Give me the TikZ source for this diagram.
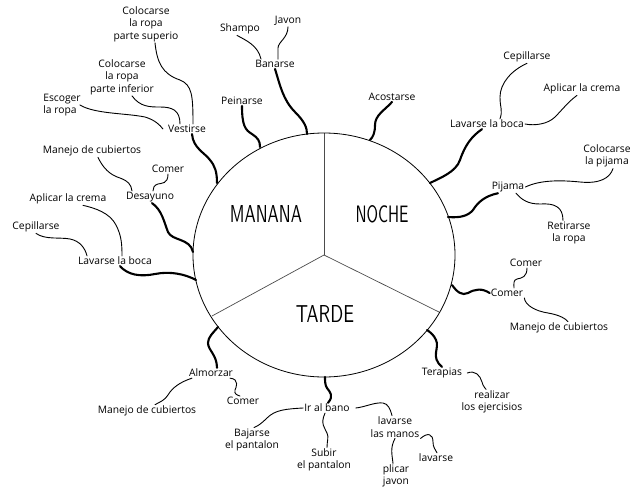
\documentclass[tikz,border=0pt]{standalone}
\usepackage{fontspec}
\setmainfont{Open Sans}
\usepackage{graphicx}
\begin{document}
\begin{tikzpicture}[x=1pt,y=-1pt,
  lbl/.style={font=\fontsize{10.3}{12.5}\selectfont, inner sep=1pt, align=center},
  big/.style={inner sep=0pt, font=\sffamily},
  thk/.style={line width=2.1pt, line cap=round},
  thn/.style={line width=0.9pt, line cap=round},
  divider/.style={line width=0.7pt, draw=black!70}]
\useasboundingbox[fill=white] (0,0) rectangle (633,491);

% circle and dividers
\coordinate (ctr) at (324,255);
\coordinate (dtop) at (324,133);
\coordinate (dleft) at (212,316);
\coordinate (dright) at (439,312);
\draw[divider] (ctr) -- (dtop);
\draw[divider] (ctr) -- (dleft);
\draw[divider] (ctr) -- (dright);
\draw[line width=0.8pt] (ctr) ellipse [x radius=131, y radius=122];

\node[big] (manana) at (266,214) {\resizebox{72pt}{17pt}{MANANA}};
\node[big] (noche) at (382,214) {\resizebox{53pt}{17pt}{NOCHE}};
\node[big] (tarde) at (325,314) {\resizebox{58pt}{17pt}{TARDE}};

% end points on the circle
\coordinate (cVest) at (217,183);
\coordinate (cBan) at (307,134);
\coordinate (cPei) at (260,147);
\coordinate (cAco) at (370,140);
\coordinate (cLavB) at (430,183);
\coordinate (cPij) at (448,217);
\coordinate (cComB) at (452,285);
\coordinate (cTer) at (427,330);
\coordinate (cIr) at (325,377);
\coordinate (cAlm) at (218,327);
\coordinate (cLavA) at (196,280);
\coordinate (cDes) at (193,252);

% MANANA labels
\node[lbl] (csup) at (146,24) {Colocarse\\la ropa\\parte superio};
\node[lbl] (sham) at (240,29) {Shampo};
\node[lbl] (javA) at (288,21) {Javon};
\node[lbl] (ban) at (275,64) {Banarse};
\node[lbl] (cinf) at (122,77) {Colocarse\\la ropa\\parte inferior};
\node[lbl, align=left] (esc) at (62,105) {Escoger\\la ropa};
\node[lbl] (pei) at (242,101) {Peinarse};
\node[lbl] (vest) at (187,129) {Vestirse};
\node[lbl] (manA) at (92,151) {Manejo de cubiertos};
\node[lbl] (comA) at (168,169) {Comer};
\node[lbl] (des) at (150,197) {Desayuno};
\node[lbl] (aplA) at (68,199) {Aplicar la crema};
\node[lbl] (cepA) at (36,227) {Cepillarse};
\node[lbl] (lavA) at (115,261) {Lavarse la boca};

% NOCHE labels
\node[lbl] (aco) at (392,97) {Acostarse};
\node[lbl] (cepB) at (527,57) {Cepillarse};
\node[lbl] (aplB) at (582,89) {Aplicar la crema};
\node[lbl] (lavB) at (487,124) {Lavarse la boca};
\node[lbl] (cpij) at (607,156) {Colocarse\\la pijama};
\node[lbl] (pij) at (508,187) {Pijama};
\node[lbl] (ret) at (569,233) {Retirarse\\la ropa};
\node[lbl] (comB1) at (526,263) {Comer};
\node[lbl] (comB) at (507,293) {Comer};
\node[lbl] (manB) at (559,328) {Manejo de cubiertos};

% TARDE labels
\node[lbl] (alm) at (211,373) {Almorzar};
\node[lbl] (comC) at (243,401) {Comer};
\node[lbl] (manC) at (147,411) {Manejo de cubiertos};
\node[lbl] (ter) at (442,373) {Terapias};
\node[lbl] (rea) at (492,402) {realizar\\los ejercisios};
\node[lbl] (ir) at (327,408) {Ir al bano};
\node[lbl] (baj) at (252,440) {Bajarse\\el pantalon};
\node[lbl] (sub) at (324,460) {Subir\\el pantalon};
\node[lbl] (lman) at (395,427) {lavarse\\las manos};
\node[lbl] (lav2) at (436,458) {lavarse};
\node[lbl] (pli) at (396,476) {plicar\\javon};

% ---- MANANA connectors
\draw[thn] ([xshift=9pt]csup.south) .. controls (157,62) and (162,74) .. (180,80) .. controls (192,85) and (193,95) .. ([xshift=6pt]vest.north);
\draw[thn] ([xshift=10pt]cinf.south) .. controls (140,107) and (150,107) .. (160,107) .. controls (172,107) and (180,110) .. ([xshift=-7pt]vest.north);
\draw[thn] ([xshift=-2pt]esc.east) .. controls (95,114) and (125,113) .. (145,117) .. controls (155,120) and (160,125) .. ([xshift=-4pt]vest.west);
\draw[thk] ([xshift=5pt]vest.south) .. controls (193,148) and (205,153) .. (210,160) .. controls (215,166) and (217,172) .. (cVest);
\draw[thn] ([xshift=-3pt]sham.south) .. controls (245,40) and (258,45) .. ([xshift=-14pt]ban.north);
\draw[thn] (javA.south) .. controls (288,38) and (278,42) .. (278,48) -- ([xshift=3pt]ban.north);
\draw[thk] (ban.south) .. controls (280,85) and (283,100) .. (295,112) .. controls (305,122) and (307,128) .. (cBan);
\draw[thk] (pei.south) .. controls (242,125) and (245,130) .. (252,134) .. controls (258,138) and (260,141) .. (cPei);
\draw[thn] ([xshift=6pt]manA.south) .. controls (103,168) and (110,175) .. (120,178) .. controls (128,181) and (131,184) .. ([xshift=-18pt]des.north);
\draw[thn] (comA.south) .. controls (168,184) and (162,183) .. (158,184) .. controls (154,185) and (153,188) .. ([xshift=3pt]des.north);
\draw[thk] ([xshift=2pt]des.south) .. controls (162,210) and (164,222) .. (168,232) .. controls (172,241) and (190,238) .. (cDes);
\draw[thn] ([xshift=15pt]aplA.south) .. controls (95,208) and (110,213) .. (116,225) .. controls (121,235) and (122,242) .. ([xshift=7pt]lavA.north);
\draw[thn] (cepA.south) .. controls (45,240) and (60,237) .. (70,239) .. controls (80,241) and (85,248) .. ([xshift=-28pt]lavA.north);
\draw[thk] ([xshift=5pt]lavA.south) .. controls (128,275) and (140,277) .. (155,274) .. controls (170,271) and (185,274) .. (cLavA);

% ---- NOCHE connectors
\draw[thk] (aco.south) .. controls (385,110) and (375,115) .. (375,125) .. controls (375,133) and (373,137) .. (cAco);
\draw[thn] (cepB.south) .. controls (512,70) and (500,83) .. (500,97) .. controls (500,108) and (503,110) .. ([xshift=13pt]lavB.north);
\draw[thn] ([xshift=-5pt]aplB.south) .. controls (568,102) and (562,110) .. (555,117) .. controls (548,124) and (535,126) .. (lavB.east);
\draw[thk] ([xshift=-5pt]lavB.south) .. controls (472,136) and (465,145) .. (460,160) .. controls (456,172) and (440,178) .. (cLavB);
\draw[thn] (pij.east) .. controls (540,180) and (560,180) .. (580,182) .. controls (600,184) and (610,178) .. ([xshift=6pt]cpij.south);
\draw[thn] ([xshift=8pt]pij.south) .. controls (522,200) and (528,204) .. (540,204) .. controls (555,203) and (563,207) .. ([xshift=-6pt]ret.north);
\draw[thk] ([xshift=-10pt]pij.south) .. controls (485,196) and (478,202) .. (473,210) .. controls (468,216) and (460,218) .. (cPij);
\draw[thn] ([xshift=1pt]comB1.south) .. controls (527,277) and (522,278) .. (517,279) .. controls (513,280) and (514,284) .. ([xshift=7pt]comB.north);
\draw[thn] (comB.south east) .. controls (525,305) and (535,311) .. (548,313) .. controls (560,315) and (566,319) .. ([xshift=9pt]manB.north);
\draw[thk] (comB.west) .. controls (482,288) and (475,289) .. (468,293) .. controls (462,296) and (457,292) .. (cComB);

% ---- TARDE connectors
\draw[thk] ([xshift=6pt]alm.north) .. controls (217,355) and (208,350) .. (208,343) .. controls (208,337) and (213,333) .. (cAlm);
\draw[thn] ([xshift=-19pt]alm.south) .. controls (180,382) and (172,388) .. (168,395) .. controls (165,400) and (160,402) .. ([xshift=8pt]manC.north);
\draw[thn] ([xshift=19pt]alm.south) .. controls (240,379) and (236,388) .. (235,390) .. controls (234,394) and (237,395) .. ([xshift=-3pt]comC.north);
\draw[thn] (ir.west) .. controls (285,409) and (275,410) .. (267,418) .. controls (262,423) and (258,426) .. ([xshift=2pt]baj.north);
\draw[thk] ([xshift=1pt]ir.north) .. controls (334,396) and (330,392) .. (327,388) .. controls (325,385) and (325,381) .. (cIr);
\draw[thn] ([xshift=5pt]ir.east) .. controls (365,407) and (375,402) .. (383,403) .. controls (388,404) and (390,408) .. ([xshift=-3pt]lman.north);
\draw[thn] ([xshift=-2pt]ir.south) .. controls (320,424) and (325,428) .. (327,433) .. controls (329,437) and (327,441) .. ([xshift=3pt]sub.north);
\draw[thn] (lman.south east) .. controls (428,432) and (433,434) .. (433,442) .. controls (433,447) and (435,449) .. ([xshift=1pt]lav2.north);
\draw[thn] (lman.south) .. controls (390,448) and (392,454) .. ([xshift=-3pt]pli.north);
\draw[thk] (ter.north) .. controls (430,357) and (440,348) .. (436,340) .. controls (434,335) and (430,332) .. (cTer);
\draw[thn] ([xshift=4pt]ter.east) .. controls (475,370) and (480,375) .. (482,382) .. controls (483,386) and (485,388) .. ([xshift=-6pt]rea.north);
\end{tikzpicture}
\end{document}
